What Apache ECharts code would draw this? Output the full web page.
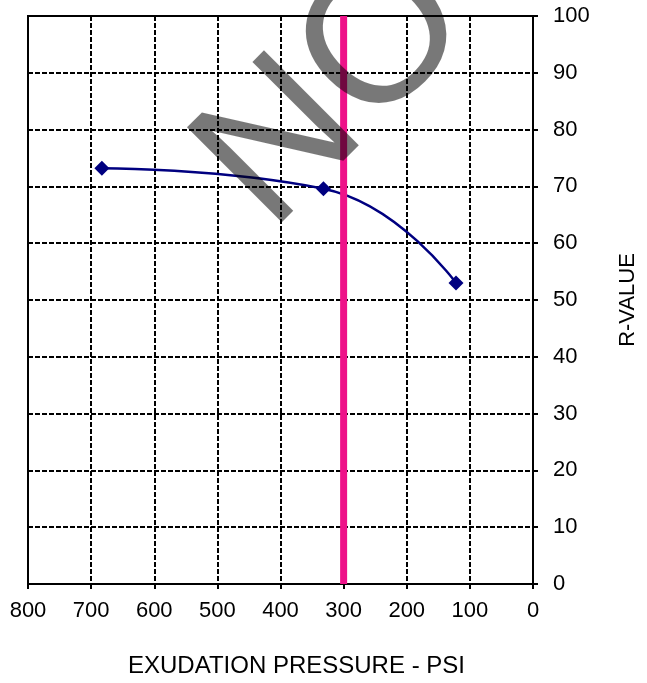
<!DOCTYPE html>
<html>
<head>
<meta charset="utf-8">
<script src="https://cdn.jsdelivr.net/npm/echarts@6/dist/echarts.min.js"></script>
<style>
  html, body { margin: 0; padding: 0; background: #fff; }
  #chart { width: 647px; height: 683px; }
</style>
</head>
<body>
<div id="chart"></div>
<script>
// data
var pressure = [683, 332, 122];
var rValue = [73.2, 69.6, 53.0];
// the vertical design line at 300 psi
var limitPressure = [300, 300];
var limitR = [0, 100];

var font = 'Arial, "Liberation Sans", sans-serif';
var ink = '#000';
var navy = '#000080';
var pink = '#ee1289';

function pairs(xs, ys) {
  var out = [];
  for (var i = 0; i < xs.length; i++) out.push([xs[i], ys[i]]);
  return out;
}

var chart = echarts.init(document.getElementById('chart'), null, { renderer: 'canvas' });
chart.setOption({
  animation: false,
  backgroundColor: '#fff',
  grid: {
    left: 28, right: 110, top: 16, bottom: 93,
    show: true, borderColor: ink, borderWidth: 2, backgroundColor: '#fff'
  },
  xAxis: {
    type: 'value',
    inverse: true,
    min: 0, max: 800, interval: 100,
    name: 'EXUDATION PRESSURE - PSI',
    nameLocation: 'middle',
    nameGap: 70,
    nameTextStyle: { color: ink, fontSize: 24, fontFamily: font, padding: [0, 0, 0, 32] },
    axisLine: { show: true, lineStyle: { color: ink, width: 2 } },
    axisTick: { show: true, length: 5, lineStyle: { color: ink, width: 2 } },
    axisLabel: { color: ink, fontSize: 22, fontFamily: font, margin: 16 },
    splitLine: { show: true, lineStyle: { color: ink, width: 2, type: [5, 2] } }
  },
  yAxis: {
    type: 'value',
    position: 'right',
    min: 0, max: 100, interval: 10,
    name: 'R-VALUE',
    nameLocation: 'middle',
    nameRotate: 90,
    nameGap: 84,
    nameTextStyle: { color: ink, fontSize: 22, fontFamily: font },
    axisLine: { show: true, lineStyle: { color: ink, width: 2 } },
    axisTick: { show: true, length: 5, lineStyle: { color: ink, width: 2 } },
    axisLabel: { color: ink, fontSize: 22, fontFamily: font, margin: 20 },
    splitLine: { show: true, lineStyle: { color: ink, width: 2, type: [5, 2] } }
  },
  series: [
    {
      name: 'R-Value',
      type: 'line',
      smooth: 0.5,
      data: pairs(pressure, rValue),
      symbol: 'diamond',
      symbolSize: 15,
      itemStyle: { color: navy },
      lineStyle: { color: navy, width: 2.5 },
      z: 3
    },
    {
      name: 'Limit',
      type: 'line',
      data: pairs(limitPressure, limitR),
      symbol: 'none',
      lineStyle: { color: pink, width: 7 },
      z: 4
    }
  ],
  graphic: [{
    type: 'text',
    x: 336, y: 92,
    rotation: Math.PI / 4,
    z: 100,
    silent: true,
    style: {
      text: 'NO',
      font: 'normal 195px ' + font,
      fill: 'rgba(0,0,0,0.53)',
      align: 'center',
      verticalAlign: 'middle'
    }
  }]
});
</script>
</body>
</html>
